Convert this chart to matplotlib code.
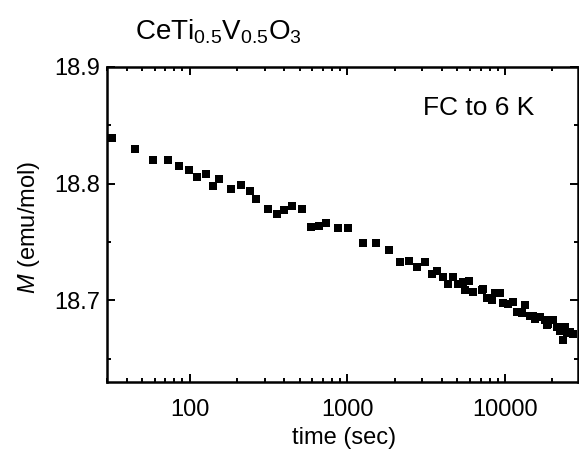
import numpy as np
import matplotlib.pyplot as plt
from matplotlib.ticker import MultipleLocator

plt.rcParams['font.family'] = ['Liberation Sans', 'DejaVu Sans']
plt.rcParams['mathtext.fontset'] = 'custom'
plt.rcParams['mathtext.rm'] = 'Liberation Sans'
plt.rcParams['mathtext.it'] = 'Liberation Sans:italic'

# tiempo de relajacion (s) y magnetizacion (emu/mol)
tiempo = [32, 45, 59, 73, 86, 99, 112, 127, 140, 153, 183, 211, 242, 265,
          313, 357, 399, 444, 517, 593, 663, 738, 875, 1010, 1264, 1517,
          1841, 2154, 2467, 2773, 3104, 3424, 3683, 4058, 4365, 4656, 5050,
          5432, 5572, 5933, 6290, 7112, 7280, 7655, 8238, 8652, 9297, 9757,
          10492, 11291, 11865, 12765, 13400, 14420, 15140, 15500, 16680,
          17950, 18400, 18840, 20280, 21300, 22340, 22890, 23440, 24030,
          24620, 25860, 27160]
M = [18.839, 18.830, 18.820, 18.820, 18.815, 18.812, 18.806, 18.808,
     18.798, 18.804, 18.795, 18.799, 18.794, 18.787, 18.778, 18.774,
     18.777, 18.781, 18.778, 18.763, 18.764, 18.766, 18.762, 18.762,
     18.749, 18.749, 18.743, 18.733, 18.734, 18.729, 18.733, 18.723,
     18.725, 18.720, 18.714, 18.720, 18.714, 18.716, 18.709, 18.717,
     18.707, 18.709, 18.710, 18.702, 18.700, 18.706, 18.706, 18.698,
     18.697, 18.699, 18.690, 18.689, 18.696, 18.687, 18.687, 18.684,
     18.686, 18.683, 18.679, 18.680, 18.683, 18.677, 18.674, 18.674,
     18.666, 18.677, 18.672, 18.673, 18.671]

fig = plt.figure(figsize=(5.79, 4.49), dpi=100)
ax = fig.add_axes([0.185, 0.149, 0.813, 0.702])

ax.plot(tiempo, M, 's', color='black', markersize=6, markeredgewidth=0)

ax.set_xscale('log')
ax.set_xlim(30, 29000)
ax.set_ylim(18.63, 18.9)
ax.set_yticks([18.7, 18.8, 18.9])
ax.yaxis.set_minor_locator(MultipleLocator(0.05))
ax.set_xticks([100, 1000, 10000])
ax.set_xticklabels(['100', '1000', '10000'])

for s in ax.spines.values():
    s.set_linewidth(1.8)
ax.tick_params(which='both', direction='in', top=True, right=True,
               width=1.4, labelsize=17)
ax.tick_params(axis='x', pad=12)
ax.tick_params(axis='y', pad=5)
ax.tick_params(which='major', length=6)
ax.tick_params(which='minor', length=3)

ax.set_xlabel('time (sec)', fontsize=17)
ax.xaxis.set_label_coords(0.504, -0.142)
ax.set_ylabel(r'$M$ (emu/mol)', fontsize=17)
ax.yaxis.set_label_coords(-0.139, 0.49)
ax.text(0.671, 0.848, 'FC to 6 K', transform=ax.transAxes, fontsize=19)
fig.text(0.233, 0.913, r'CeTi$_{0.5}$V$_{0.5}$O$_3$', fontsize=20,
         va='baseline')

plt.savefig('out.png')
